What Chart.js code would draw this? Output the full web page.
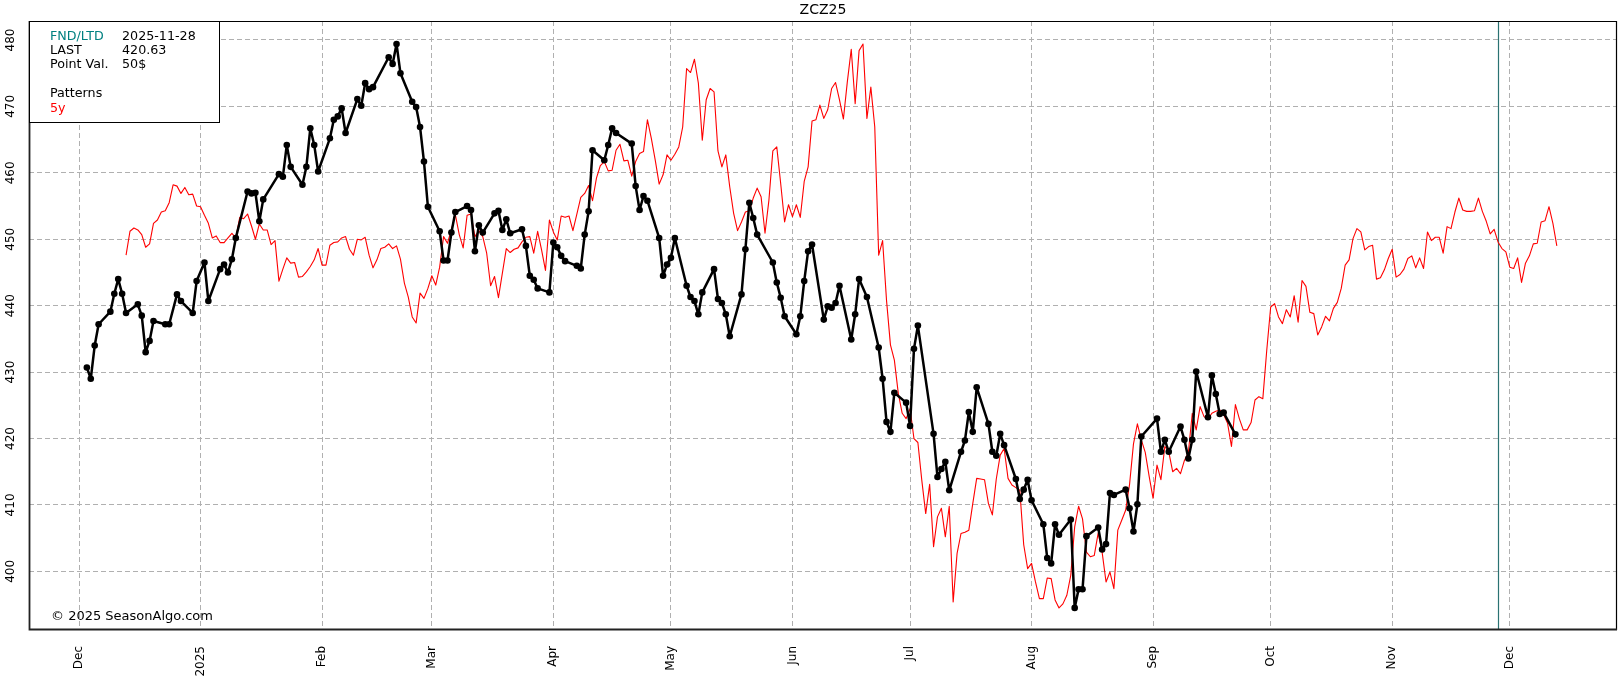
<!DOCTYPE html>
<html>
<head>
<meta charset="utf-8">
<script src="https://cdn.jsdelivr.net/npm/chart.js@4.4.0/dist/chart.umd.min.js"></script>
<style>
html,body{margin:0;padding:0;background:#fff;}
#wrap{width:1621px;height:678px;position:relative;}
</style>
</head>
<body>
<div id="wrap"><canvas id="c"></canvas></div>
<script>
const chartTitle = 'ZCZ25';
const infoLabels = ['FND/LTD', 'LAST', 'Point Val.'];
const infoValues = ['2025-11-28', '420.63', '50$'];
const patternsLabel = 'Patterns';
const patternName = '5y';
const copyrightText = '© 2025 SeasonAlgo.com';
const fndDate = '2025-11-28';

const monthTickDates = ['2024-12-01','2025-01-01','2025-02-01','2025-03-01','2025-04-01','2025-05-01','2025-06-01','2025-07-01','2025-08-01','2025-09-01','2025-10-01','2025-11-01','2025-12-01'];
const monthTickLabels = ['Dec','2025','Feb','Mar','Apr','May','Jun','Jul','Aug','Sep','Oct','Nov','Dec'];
const priceTicks = [400, 410, 420, 430, 440, 450, 460, 470, 480];

// Current contract (black, with markers)
const blackDates = [
'2024-12-03','2024-12-04','2024-12-05','2024-12-06','2024-12-09','2024-12-10','2024-12-11','2024-12-12','2024-12-13',
'2024-12-16','2024-12-17','2024-12-18','2024-12-19','2024-12-20','2024-12-23','2024-12-24','2024-12-26','2024-12-27',
'2024-12-30','2024-12-31','2025-01-02','2025-01-03','2025-01-06','2025-01-07','2025-01-08','2025-01-09','2025-01-10',
'2025-01-13','2025-01-14','2025-01-15','2025-01-16','2025-01-17','2025-01-21','2025-01-22','2025-01-23','2025-01-24',
'2025-01-27','2025-01-28','2025-01-29','2025-01-30','2025-01-31',
'2025-02-03','2025-02-04','2025-02-05','2025-02-06','2025-02-07','2025-02-10','2025-02-11','2025-02-12','2025-02-13','2025-02-14',
'2025-02-18','2025-02-19','2025-02-20','2025-02-21','2025-02-24','2025-02-25','2025-02-26','2025-02-27','2025-02-28',
'2025-03-03','2025-03-04','2025-03-05','2025-03-06','2025-03-07','2025-03-10','2025-03-11','2025-03-12','2025-03-13','2025-03-14',
'2025-03-17','2025-03-18','2025-03-19','2025-03-20','2025-03-21','2025-03-24','2025-03-25','2025-03-26','2025-03-27','2025-03-28',
'2025-03-31','2025-04-01','2025-04-02','2025-04-03','2025-04-04','2025-04-07','2025-04-08','2025-04-09','2025-04-10','2025-04-11',
'2025-04-14','2025-04-15','2025-04-16','2025-04-17','2025-04-21','2025-04-22','2025-04-23','2025-04-24','2025-04-25',
'2025-04-28','2025-04-29','2025-04-30','2025-05-01','2025-05-02','2025-05-05','2025-05-06','2025-05-07','2025-05-08','2025-05-09',
'2025-05-12','2025-05-13','2025-05-14','2025-05-15','2025-05-16','2025-05-19','2025-05-20','2025-05-21','2025-05-22','2025-05-23',
'2025-05-27','2025-05-28','2025-05-29','2025-05-30','2025-06-02','2025-06-03','2025-06-04','2025-06-05','2025-06-06',
'2025-06-09','2025-06-10','2025-06-11','2025-06-12','2025-06-13','2025-06-16','2025-06-17','2025-06-18','2025-06-20',
'2025-06-23','2025-06-24','2025-06-25','2025-06-26','2025-06-27','2025-06-30','2025-07-01','2025-07-02','2025-07-03',
'2025-07-07','2025-07-08','2025-07-09','2025-07-10','2025-07-11','2025-07-14','2025-07-15','2025-07-16','2025-07-17','2025-07-18',
'2025-07-21','2025-07-22','2025-07-23','2025-07-24','2025-07-25','2025-07-28','2025-07-29','2025-07-30','2025-07-31','2025-08-01',
'2025-08-04','2025-08-05','2025-08-06','2025-08-07','2025-08-08','2025-08-11','2025-08-12','2025-08-13','2025-08-14','2025-08-15',
'2025-08-18','2025-08-19','2025-08-20','2025-08-21','2025-08-22','2025-08-25','2025-08-26','2025-08-27','2025-08-28','2025-08-29',
'2025-09-02','2025-09-03','2025-09-04','2025-09-05','2025-09-08','2025-09-09','2025-09-10','2025-09-11','2025-09-12',
'2025-09-15','2025-09-16','2025-09-17','2025-09-18','2025-09-19','2025-09-22'];
const blackValues = [
430.7, 429.0, 434.0, 437.2, 439.1, 441.8, 444.0, 441.8, 438.9,
440.2, 438.5, 433.0, 434.7, 437.7, 437.2, 437.2, 441.7, 440.7,
438.9, 443.7, 446.5, 440.7, 445.5, 446.2, 445.0, 447.0, 450.2,
457.2, 456.9, 457.0, 452.7, 456.0, 459.8, 459.4, 464.2, 460.9,
458.2, 460.9, 466.7, 464.2, 460.2,
465.2, 468.0, 468.5, 469.7, 466.0, 471.1, 470.1, 473.5, 472.6, 472.9,
477.4, 476.4, 479.4, 475.0, 470.7, 469.9, 466.9, 461.7, 454.9,
451.2, 446.8, 446.8, 451.0, 454.1, 455.0, 454.4, 448.2, 452.1, 451.0,
453.9, 454.3, 451.4, 453.0, 450.9, 451.5, 449.0, 444.5, 443.9, 442.6,
442.0, 449.5, 448.8, 447.5, 446.7, 446.0, 445.6, 450.7, 454.2, 463.4,
461.9, 464.2, 466.7, 466.0, 464.4, 458.0, 454.4, 456.5, 455.8,
450.2, 444.5, 446.2, 447.2, 450.2, 443.0, 441.3, 440.7, 438.7, 442.0,
445.5, 441.0, 440.4, 438.7, 435.4, 441.7, 448.5, 455.5, 453.2, 450.7,
446.5, 443.5, 441.2, 438.4, 435.7, 438.4, 443.7, 448.2, 449.2,
437.9, 439.9, 439.7, 440.4, 443.0, 434.9, 438.7, 444.0, 441.3,
433.7, 429.0, 422.5, 421.0, 426.9, 425.4, 421.9, 433.5, 437.0,
420.7, 414.2, 415.4, 416.5, 412.2, 418.0, 419.7, 424.0, 421.0, 427.7,
422.2, 418.0, 417.4, 420.7, 419.0, 413.9, 410.9, 412.3, 413.8, 410.7,
407.1, 402.0, 401.2, 407.1, 405.5, 407.8, 394.5, 397.3, 397.3, 405.3,
406.6, 403.3, 404.1, 411.8, 411.5, 412.3, 409.5, 406.0, 410.1, 420.3,
423.0, 418.0, 419.8, 418.0, 421.8, 419.8, 417.0, 419.8, 430.1,
423.2, 429.5, 426.7, 423.7, 423.9, 420.63];

// 5y seasonal pattern (red), one value per calendar day from patternStart
const patternStart = '2024-12-13';
const patternValues = [
447.6, 451.2, 451.7, 451.4, 450.7, 448.8, 449.3, 452.4, 452.9, 454.1,
454.3, 455.5, 458.2, 458.0, 456.9, 457.8, 456.7, 456.8, 455.0, 454.9,
453.6, 452.4, 450.2, 450.5, 449.5, 449.5, 450.2, 450.9, 450.2, 453.3,
453.1, 453.8, 452.0, 450.0, 452.3, 451.4, 451.4, 449.2, 449.8, 443.7,
445.5, 447.2, 446.4, 446.5, 444.3, 444.4, 445.1, 445.9, 446.9, 448.6,
446.1, 446.1, 449.1, 449.5, 449.6, 450.2, 450.4, 448.5, 447.6, 450.0,
449.9, 450.3, 447.6, 445.7, 446.9, 448.6, 448.8, 449.3, 448.6, 449.0,
447.0, 443.4, 441.3, 438.3, 437.4, 441.9, 441.1, 442.6, 444.5, 443.1,
445.8, 450.4, 449.4, 451.5, 453.7, 450.7, 448.7, 453.6, 453.8, 450.4,
451.3, 450.4, 447.9, 443.0, 444.4, 441.2, 444.9, 448.6, 448.0, 448.5,
448.7, 449.6, 450.3, 450.4, 447.9, 451.2, 448.4, 445.3, 452.9, 451.1,
449.9, 453.5, 453.3, 453.5, 451.3, 453.8, 456.3, 456.9, 458.1, 455.8,
459.2, 461.1, 461.7, 460.3, 460.4, 463.4, 464.3, 461.8, 461.9, 459.5,
461.7, 462.9, 463.2, 468.0, 465.2, 461.9, 458.3, 459.7, 462.7, 461.9,
462.8, 463.9, 466.9, 475.7, 475.1, 477.1, 473.5, 464.9, 471.0, 472.7,
472.2, 463.3, 460.9, 462.7, 457.9, 453.9, 451.3, 452.6, 454.1, 454.3,
456.2, 457.7, 456.4, 450.9, 455.9, 463.3, 463.9, 458.4, 452.6, 455.2,
453.4, 455.2, 453.3, 458.7, 460.9, 467.8, 468.0, 470.2, 468.2, 469.5,
472.7, 473.6, 471.0, 468.1, 473.7, 478.6, 470.4, 478.4, 479.4, 468.2,
472.9, 466.9, 447.6, 449.8, 440.8, 434.1, 431.8, 426.8, 423.8, 423.0,
424.5, 420.0, 419.4, 413.7, 408.7, 413.1, 403.7, 408.2, 409.5, 405.2,
409.8, 395.4, 402.7, 405.7, 405.9, 406.2, 410.2, 414.0, 413.9, 413.8,
410.2, 408.5, 413.9, 417.5, 418.5, 414.0, 413.0, 412.6, 412.2, 404.0,
400.4, 401.2, 398.4, 395.9, 395.9, 399.0, 398.9, 395.7, 394.5, 395.1,
396.4, 399.4, 406.7, 409.8, 407.9, 402.9, 402.2, 402.4, 405.8, 402.9,
398.4, 399.9, 397.4, 406.2, 407.7, 409.2, 413.1, 419.2, 422.2, 419.8,
417.9, 414.3, 411.0, 416.0, 413.8, 418.8, 418.0, 415.0, 415.5, 414.7,
416.7, 417.9, 423.8, 421.3, 424.8, 423.3, 422.9, 423.8, 424.1, 424.3,
423.6, 422.3, 418.8, 425.1, 423.0, 421.3, 421.3, 422.4, 425.8, 426.3,
426.0, 433.3, 439.8, 440.3, 438.3, 437.3, 439.4, 438.3, 441.5, 437.5,
443.8, 442.9, 439.0, 438.8, 435.6, 436.8, 438.4, 437.7, 439.6, 440.5,
442.6, 446.1, 446.9, 450.1, 451.6, 451.1, 448.4, 448.9, 449.1, 444.0,
444.2, 445.4, 447.1, 448.5, 444.3, 444.7, 445.5, 447.1, 447.5, 445.7,
447.2, 445.6, 451.1, 449.8, 450.3, 450.3, 447.9, 451.9, 451.6, 454.1,
456.2, 454.4, 454.2, 454.2, 454.3, 456.2, 454.2, 452.7, 450.8, 451.5,
449.6, 448.6, 448.1, 445.8, 445.6, 447.2, 443.5, 446.4, 447.5, 449.3,
449.4, 452.6, 452.8, 454.9, 452.4, 449.0];

const EPOCH = Date.UTC(2024, 11, 1);
function dayNum(s) {
  const p = s.split('-').map(Number);
  return (Date.UTC(p[0], p[1] - 1, p[2]) - EPOCH) / 864e5;
}

const FONT = 'DejaVu Sans';
const patternStartDay = dayNum(patternStart);
const redData = patternValues.map((v, i) => ({x: patternStartDay + i, y: v}));
const blackData = blackDates.map((d, i) => ({x: dayNum(d), y: blackValues[i]}));

const decor = {
  id: 'decor',
  beforeDatasetsDraw(chart) {
    const ctx = chart.ctx, ca = chart.chartArea;
    const x = Math.round(chart.scales.x.getPixelForValue(dayNum(fndDate))) + 0.5;
    ctx.save();
    ctx.strokeStyle = '#2a7272';
    ctx.lineWidth = 1.2;
    ctx.beginPath();
    ctx.moveTo(x, ca.top);
    ctx.lineTo(x, ca.bottom);
    ctx.stroke();
    ctx.restore();
  },
  afterDraw(chart) {
    const ctx = chart.ctx, ca = chart.chartArea;
    ctx.save();
    // frame
    ctx.strokeStyle = '#000';
    ctx.lineWidth = 1.2;
    ctx.beginPath();
    ctx.moveTo(ca.left, ca.top + 0.5);
    ctx.lineTo(ca.right - 0.5, ca.top + 0.5);
    ctx.lineTo(ca.right - 0.5, ca.bottom);
    ctx.stroke();
    ctx.strokeStyle = '#222';
    ctx.lineWidth = 1.8;
    ctx.beginPath();
    ctx.moveTo(ca.left + 0.5, ca.top);
    ctx.lineTo(ca.left + 0.5, ca.bottom - 0.5);
    ctx.lineTo(ca.right, ca.bottom - 0.5);
    ctx.stroke();
    // info box
    const bx = ca.left + 0.5, by = ca.top + 0.5, bw = 190, bh = 101;
    ctx.fillStyle = '#fff';
    ctx.fillRect(bx, by, bw, bh);
    ctx.strokeStyle = '#000';
    ctx.lineWidth = 1;
    ctx.strokeRect(bx, by, bw, bh);
    ctx.font = '12.7px "' + FONT + '"';
    ctx.textBaseline = 'middle';
    ctx.textAlign = 'left';
    const rows = [36.7, 50.7, 64.7];
    infoLabels.forEach((t, i) => {
      ctx.fillStyle = i === 0 ? '#008080' : '#000';
      ctx.fillText(t, 50, rows[i]);
      ctx.fillStyle = '#000';
      ctx.fillText(infoValues[i], 122, rows[i]);
    });
    ctx.fillStyle = '#000';
    ctx.fillText(patternsLabel, 50, 94);
    ctx.fillStyle = '#ff0000';
    ctx.fillText(patternName, 50, 108.3);
    // copyright
    ctx.fillStyle = '#000';
    ctx.font = '13px "' + FONT + '"';
    ctx.fillText(copyrightText, 51, 616.5);
    ctx.restore();
  }
};

new Chart(document.getElementById('c'), {
  type: 'line',
  data: {
    datasets: [
      {
        label: patternName,
        data: redData,
        borderColor: '#ff0000',
        borderWidth: 1.1,
        borderJoinStyle: 'round',
        pointRadius: 0,
        tension: 0,
        order: 2
      },
      {
        label: chartTitle,
        data: blackData,
        borderColor: '#000',
        backgroundColor: '#000',
        borderWidth: 2.5,
        borderJoinStyle: 'round',
        borderCapStyle: 'round',
        pointRadius: 3.3,
        pointBackgroundColor: '#000',
        pointBorderWidth: 0,
        tension: 0,
        order: 1
      }
    ]
  },
  options: {
    responsive: true,
    maintainAspectRatio: false,
    animation: false,
    events: [],
    layout: {padding: {left: 0, right: 4, top: 0, bottom: 0}},
    plugins: {
      legend: {display: false},
      tooltip: {enabled: false},
      title: {
        display: true,
        text: chartTitle,
        fullSize: false,
        color: '#000',
        font: {family: FONT, size: 14, weight: 'normal', lineHeight: 1.2},
        padding: {top: 2, bottom: 2.2}
      }
    },
    scales: {
      x: {
        type: 'linear',
        min: -12.76,
        max: 392.35,
        afterBuildTicks: s => { s.ticks = monthTickDates.map(d => ({value: dayNum(d)})); },
        afterFit: s => { s.height = 48; },
        ticks: {
          autoSkip: false,
          minRotation: 90,
          maxRotation: 90,
          padding: 16,
          color: '#000',
          font: {family: FONT, size: 12},
          callback: (v, i) => monthTickLabels[i]
        },
        grid: {color: '#b0b0b0', lineWidth: 1, drawTicks: false},
        border: {display: false, dash: [5, 3]}
      },
      y: {
        type: 'linear',
        min: 391.17,
        max: 482.86,
        afterBuildTicks: s => { s.ticks = priceTicks.map(v => ({value: v})); },
        afterFit: s => { s.width = 29; },
        ticks: {
          minRotation: 90,
          maxRotation: 90,
          crossAlign: 'center',
          padding: 7,
          color: '#000',
          font: {family: FONT, size: 12},
          callback: v => String(v)
        },
        grid: {color: '#b0b0b0', lineWidth: 1, drawTicks: false},
        border: {display: false, dash: [5, 3]}
      }
    }
  },
  plugins: [decor]
});
</script>
</body>
</html>
